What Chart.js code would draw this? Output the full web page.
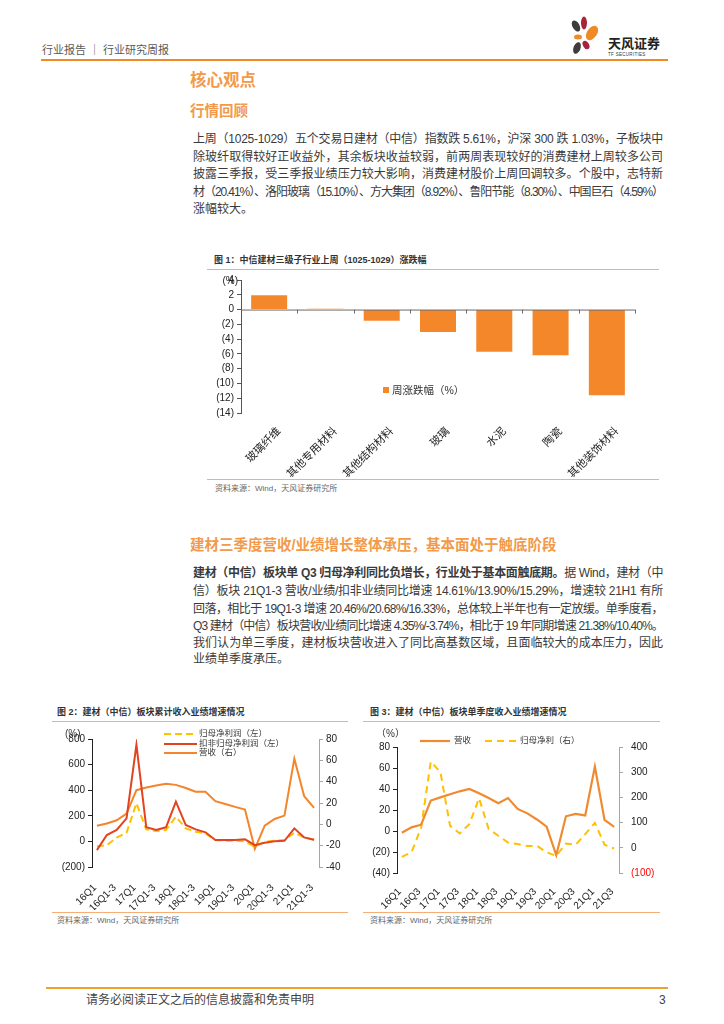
<!DOCTYPE html>
<html>
<head>
<meta charset="utf-8">
<script src="https://cdn.jsdelivr.net/npm/chart.js@4.4.0/dist/chart.umd.min.js"></script>
<style>
body{margin:0;width:724px;height:1024px;position:relative;background:#fff;overflow:hidden;
  font-family:"Liberation Sans","Noto Sans CJK SC",sans-serif;color:#3a3a3a}
.a{position:absolute;white-space:nowrap}
.h1{font-size:16.5px;font-weight:bold;color:#F29A4A}
.h2{font-size:14.5px;font-weight:bold;color:#F29A4A}
.ln{position:absolute;left:193px;width:470px;font-size:12px;line-height:14px;white-space:nowrap;text-align:justify;text-align-last:justify}
.ln.last{text-align:left;text-align-last:left}
.b{font-weight:bold}
.ct{font-size:9px;font-weight:bold;color:#333;line-height:12px}
.src{font-size:8px;color:#666;line-height:10px}
.rule{position:absolute;height:1.5px;background:#F6AE74}
canvas{position:absolute}
</style>
</head>
<body>

<!-- header -->
<div class="a" style="left:42px;top:43px;font-size:11px;color:#5a5a5a;line-height:14px">行业报告 ｜ 行业研究周报</div>
<div style="position:absolute;left:41px;top:59px;width:627px;height:2px;background:#F08A24"></div>
<svg class="a" style="left:566px;top:16px" width="100" height="44" viewBox="0 0 100 44">
  <ellipse cx="10" cy="10" rx="3.5" ry="6" transform="rotate(-30 10 10)" fill="#3d3d3d"/>
  <ellipse cx="18" cy="7" rx="3" ry="6.5" fill="#A8243A"/>
  <ellipse cx="26" cy="17" rx="5" ry="8" transform="rotate(35 26 17)" fill="#F08A24"/>
  <ellipse cx="12" cy="21" rx="4" ry="2.5" fill="#F08A24"/>
  <ellipse cx="11" cy="32" rx="3.5" ry="6" transform="rotate(20 11 32)" fill="#3d3d3d"/>
  <ellipse cx="20" cy="29" rx="3" ry="4.5" transform="rotate(-30 20 29)" fill="#A8243A"/>
</svg>
<div class="a" style="left:608px;top:36px;font-size:13px;font-weight:bold;color:#222;line-height:15px">天风证券</div>
<div class="a" style="left:608px;top:52px;font-size:4.5px;color:#333;line-height:6px;letter-spacing:0.3px">TF SECURITIES</div>

<!-- section 1 -->
<div class="a h1" style="left:190px;top:71px;line-height:19px">核心观点</div>
<div class="a h2" style="left:190px;top:102px;line-height:18px">行情回顾</div>
<div class="ln" style="top:132px">上周（1025-1029）五个交易日建材（中信）指数跌 5.61%，沪深 300 跌 1.03%，子板块中</div>
<div class="ln" style="top:149.5px">除玻纤取得较好正收益外，其余板块收益较弱，前两周表现较好的消费建材上周较多公司</div>
<div class="ln" style="top:167px">披露三季报，受三季报业绩压力较大影响，消费建材股价上周回调较多。个股中，志特新</div>
<div class="ln" style="top:184.5px">材（20.41%）、洛阳玻璃（15.10%）、方大集团（8.92%）、鲁阳节能（8.30%）、中国巨石（4.59%）</div>
<div class="ln last" style="top:202px">涨幅较大。</div>

<!-- figure 1 -->
<div class="a ct" style="left:214px;top:254px">图 1：中信建材三级子行业上周（1025-1029）涨跌幅</div>
<div class="rule" style="left:207px;top:268.5px;width:452px"></div>
<canvas id="c1" width="452" height="206" style="left:207px;top:271px"></canvas>
<div class="rule" style="left:207px;top:478.5px;width:452px"></div>
<div class="a src" style="left:215px;top:484px">资料来源：Wind，天风证券研究所</div>

<!-- section 2 -->
<div class="a h2" style="left:190px;top:536px;line-height:18px">建材三季度营收/业绩增长整体承压，基本面处于触底阶段</div>
<div class="ln" style="top:566px"><span class="b">建材（中信）板块单 Q3 归母净利同比负增长，行业处于基本面触底期。</span>据 Wind，建材（中</div>
<div class="ln" style="top:584px">信）板块 21Q1-3 营收/业绩/扣非业绩同比增速 14.61%/13.90%/15.29%，增速较 21H1 有所</div>
<div class="ln" style="top:602px">回落，相比于 19Q1-3 增速 20.46%/20.68%/16.33%，总体较上半年也有一定放缓。单季度看，</div>
<div class="ln" style="top:619px">Q3 建材（中信）板块营收/业绩同比增速 4.35%/-3.74%，相比于 19 年同期增速 21.38%/10.40%。</div>
<div class="ln" style="top:636px">我们认为单三季度，建材板块营收进入了同比高基数区域，且面临较大的成本压力，因此</div>
<div class="ln last" style="top:652px">业绩单季度承压。</div>

<!-- figure 2 / 3 -->
<div class="a ct" style="left:57px;top:706px">图 2：建材（中信）板块累计收入业绩增速情况</div>
<div class="rule" style="left:52px;top:720.5px;width:296px"></div>
<canvas id="c2" width="296" height="186" style="left:52px;top:724px"></canvas>
<div class="rule" style="left:52px;top:911.5px;width:296px"></div>
<div class="a src" style="left:57px;top:916px">资料来源：Wind，天风证券研究所</div>

<div class="a ct" style="left:370px;top:706px">图 3：建材（中信）板块单季度收入业绩增速情况</div>
<div class="rule" style="left:363px;top:720.5px;width:297px"></div>
<canvas id="c3" width="297" height="186" style="left:363px;top:724px"></canvas>
<div class="rule" style="left:363px;top:911.5px;width:297px"></div>
<div class="a src" style="left:370px;top:916px">资料来源：Wind，天风证券研究所</div>

<!-- footer -->
<div style="position:absolute;left:46px;top:987px;width:622px;height:2px;background:#F0A030"></div>
<div class="a" style="left:86px;top:993px;font-size:12px;color:#444;line-height:15px">请务必阅读正文之后的信息披露和免责申明</div>
<div class="a" style="left:659px;top:993px;font-size:12px;color:#444;line-height:15px">3</div>

<script>
// fig 1 data
var subSectors = ['玻璃纤维', '其他专用材料', '其他结构材料', '玻璃', '水泥', '陶瓷', '其他装饰材料'];
var weeklyChange = [1.95, 0.1, -1.5, -3.05, -5.7, -6.2, -11.6];

// fig 2 data (cumulative, yoy %)
var cumPeriods = ['16Q1', '16H1', '16Q1-3', '16A', '17Q1', '17H1', '17Q1-3', '17A',
  '18Q1', '18H1', '18Q1-3', '18A', '19Q1', '19H1', '19Q1-3', '19A',
  '20Q1', '20H1', '20Q1-3', '20A', '21Q1', '21H1', '21Q1-3'];
var cumNetProfit = [-37, -30, 29, 68, 298, 94, 81, 89, 193, 102, 76, 63, 10, 5, 5, 0, -42, -3, 5, 10, 68, 30, 13];
var cumDeductProfit = [-68, 50, 89, 180, 755, 110, 89, 110, 311, 128, 94, 71, 10, 10, 10, 16, -29, -10, 2, 5, 102, 31, 13];
var cumRevenue = [-1.3, 0.8, 3.8, 10, 32, 34.6, 36.5, 38, 37, 34, 30.5, 30.5, 21.7, 19, 16.4, 13.8, -23, -1.3, 5, 8.2, 61.6, 26.4, 15.4];

// fig 3 data (single quarter, yoy %)
var quarters = ['16Q1', '16Q2', '16Q3', '16Q4', '17Q1', '17Q2', '17Q3', '17Q4',
  '18Q1', '18Q2', '18Q3', '18Q4', '19Q1', '19Q2', '19Q3', '19Q4',
  '20Q1', '20Q2', '20Q3', '20Q4', '21Q1', '21Q2', '21Q3'];
var qRevenue = [-1.6, 3.5, 6, 29, 32, 35, 37.8, 40, 36, 31.5, 26.5, 31.4, 21, 16.8, 11, 4.2, -23, 14, 16.2, 14.8, 61.3, 10.5, 4];
var qNetProfit = [-36, -18, 80, 342, 300, 87, 57, 94, 197, 74, 48, 21, 15, 7, 8, -18, -32, 17, 12, 54, 99, 12, -3];

var LATIN = '"Liberation Sans","Noto Sans CJK SC",sans-serif';
Chart.defaults.font.family = LATIN;
Chart.defaults.color = '#222';

function paren(v) { return v < 0 ? '(' + (-v) + ')' : '' + v; }
function fix(w) { return function (s) { s.width = w; s.paddingTop = 0; s.paddingBottom = 0; }; }
function fixH(h) { return function (s) { s.height = h; s.paddingLeft = 0; s.paddingRight = 0; }; }
function everyOther(v, i) { return i % 2 === 0 ? this.getLabelForValue(v) : ''; }

// fig 1
var decor1 = {
  id: 'decor1',
  afterDatasetsDraw: function (chart) {
    var ctx = chart.ctx, a = chart.chartArea, x = chart.scales.x, y = chart.scales.y;
    var y0 = y.getPixelForValue(0);
    ctx.save();
    ctx.strokeStyle = '#6b6b6b';
    ctx.lineWidth = 1;
    ctx.beginPath();
    ctx.moveTo(a.left, y0 + 0.5); ctx.lineTo(a.right, y0 + 0.5);
    for (var k = 1; k <= subSectors.length; k++) {
      var bx = Math.round(x.getPixelForValue(k - 0.5)) + 0.5;
      ctx.moveTo(bx, y0); ctx.lineTo(bx, y0 + 4);
    }
    ctx.stroke();
    ctx.font = '10px ' + LATIN;
    ctx.fillStyle = '#222';
    ctx.textBaseline = 'middle';
    ctx.textAlign = 'right';
    ctx.fillText('(%)', a.left - 3, a.top + 1);
    // legend inside plot
    ctx.fillStyle = '#F5872B';
    ctx.fillRect(176, 116, 6, 6);
    ctx.fillStyle = '#333';
    ctx.textAlign = 'left';
    ctx.font = '10.5px ' + LATIN;
    ctx.fillText('周涨跌幅（%）', 185, 120);
    ctx.restore();
  }
};

new Chart(document.getElementById('c1'), {
  type: 'bar',
  data: {
    labels: subSectors,
    datasets: [{
      label: '周涨跌幅（%）',
      data: weeklyChange,
      backgroundColor: '#F5872B',
      barPercentage: 0.64,
      categoryPercentage: 1
    }]
  },
  options: {
    responsive: false,
    animation: false,
    layout: { padding: { top: 9, right: 24, left: 0, bottom: 0 } },
    plugins: { legend: { display: false }, tooltip: { enabled: false } },
    scales: {
      x: {
        grid: { display: false },
        border: { display: false },
        ticks: { minRotation: 45, maxRotation: 45, autoSkip: false, padding: 4, labelOffset: 10, font: { size: 11 } },
        afterFit: fixH(64)
      },
      y: {
        min: -14, max: 4,
        ticks: { stepSize: 2, autoSkip: false, padding: 3, font: { size: 10 }, callback: paren },
        grid: { drawOnChartArea: false, tickLength: 4, color: '#555' },
        border: { color: '#555' },
        afterFit: fix(34)
      }
    }
  },
  plugins: [decor1]
});

// legend helper for line charts
function legendLine(ctx, x1, x2, y, color, dash) {
  ctx.beginPath();
  ctx.strokeStyle = color;
  ctx.lineWidth = 2.2;
  ctx.setLineDash(dash || []);
  ctx.moveTo(x1, y); ctx.lineTo(x2, y);
  ctx.stroke();
  ctx.setLineDash([]);
}

// fig 2
var decor2 = {
  id: 'decor2',
  afterDraw: function (chart) {
    var ctx = chart.ctx, ds = chart.data.datasets;
    ctx.save();
    ctx.font = '8.5px ' + LATIN;
    ctx.textBaseline = 'middle';
    ctx.fillStyle = '#333';
    var rows = [10, 20, 29];
    for (var i = 0; i < ds.length; i++) {
      legendLine(ctx, 112, 145, rows[i], ds[i].borderColor, ds[i].borderDash);
      ctx.fillStyle = '#333';
      ctx.fillText(ds[i].label, 147, rows[i]);
    }
    ctx.font = '10px ' + LATIN;
    ctx.fillText('(%)', 13, 10);
    ctx.restore();
  }
};

new Chart(document.getElementById('c2'), {
  type: 'line',
  data: {
    labels: cumPeriods,
    datasets: [
      { label: '归母净利润（左）', data: cumNetProfit, borderColor: '#FFC000', borderDash: [7, 4], borderWidth: 2, pointRadius: 0, yAxisID: 'y', order: 2 },
      { label: '扣非归母净利润（左）', data: cumDeductProfit, borderColor: '#E2441F', borderWidth: 2, pointRadius: 0, yAxisID: 'y', order: 0 },
      { label: '营收（右）', data: cumRevenue, borderColor: '#F4852A', borderWidth: 2, pointRadius: 0, yAxisID: 'y2', order: 1 }
    ]
  },
  options: {
    responsive: false,
    animation: false,
    layout: { padding: { top: 15, right: 0, left: 0, bottom: 0 } },
    plugins: { legend: { display: false }, tooltip: { enabled: false } },
    scales: {
      x: {
        offset: true,
        grid: { display: false },
        border: { display: false },
        ticks: { minRotation: 45, maxRotation: 45, autoSkip: false, padding: 7, labelOffset: -2, font: { size: 10 }, callback: everyOther },
        afterFit: fixH(43)
      },
      y: {
        min: -200, max: 800,
        ticks: { stepSize: 200, autoSkip: false, padding: 3, font: { size: 10 }, callback: paren },
        grid: { drawOnChartArea: false, tickLength: 4, color: '#222' },
        border: { color: '#222' },
        afterFit: fix(40)
      },
      y2: {
        position: 'right',
        min: -40, max: 80,
        ticks: { stepSize: 20, autoSkip: false, padding: 3, font: { size: 10 } },
        grid: { drawOnChartArea: false, tickLength: 4, color: '#A6A6A6' },
        border: { color: '#A6A6A6' },
        afterFit: fix(29)
      }
    }
  },
  plugins: [decor2]
});

// fig 3
var decor3 = {
  id: 'decor3',
  afterDraw: function (chart) {
    var ctx = chart.ctx, ds = chart.data.datasets;
    ctx.save();
    ctx.font = '8.5px ' + LATIN;
    ctx.textBaseline = 'middle';
    ctx.fillStyle = '#333';
    legendLine(ctx, 57, 87, 17, ds[0].borderColor, ds[0].borderDash);
    ctx.fillText(ds[0].label, 91, 17);
    legendLine(ctx, 122, 154, 17, ds[1].borderColor, ds[1].borderDash);
    ctx.fillText(ds[1].label, 157, 17);
    ctx.font = '10px ' + LATIN;
    ctx.fillText('（%）', 13, 10);
    ctx.restore();
  }
};

new Chart(document.getElementById('c3'), {
  type: 'line',
  data: {
    labels: quarters,
    datasets: [
      { label: '营收', data: qRevenue, borderColor: '#F08A30', borderWidth: 2.2, pointRadius: 0, yAxisID: 'y', order: 0 },
      { label: '归母净利（右）', data: qNetProfit, borderColor: '#FFC000', borderDash: [7, 5], borderWidth: 2, pointRadius: 0, yAxisID: 'y2', order: 1 }
    ]
  },
  options: {
    responsive: false,
    animation: false,
    layout: { padding: { top: 23, right: 0, left: 0, bottom: 0 } },
    plugins: { legend: { display: false }, tooltip: { enabled: false } },
    scales: {
      x: {
        offset: true,
        grid: { display: false },
        border: { display: false },
        ticks: { minRotation: 45, maxRotation: 45, autoSkip: false, padding: 5, labelOffset: -2, font: { size: 10 }, callback: everyOther },
        afterFit: fixH(37)
      },
      y: {
        min: -40, max: 80,
        ticks: { stepSize: 20, autoSkip: false, padding: 3, font: { size: 10 }, callback: paren },
        grid: { drawOnChartArea: false, tickLength: 4, color: '#222' },
        border: { color: '#222' },
        afterFit: fix(34)
      },
      y2: {
        position: 'right',
        min: -100, max: 400,
        ticks: {
          stepSize: 100, autoSkip: false, padding: 8, font: { size: 10 }, callback: paren,
          color: function (c) { return c.tick.value < 0 ? '#FF0000' : '#222'; }
        },
        grid: { drawOnChartArea: false, tickLength: 4, color: '#A6A6A6' },
        border: { color: '#A6A6A6' },
        afterFit: fix(41)
      }
    }
  },
  plugins: [decor3]
});

// squeeze body lines that run past the column width
document.querySelectorAll('.ln').forEach(function (el) {
  var over = el.scrollWidth - el.clientWidth;
  if (over > 0) {
    var n = el.textContent.length;
    el.style.letterSpacing = (-(over + 2) / n).toFixed(3) + 'px';
  }
});
</script>
</body>
</html>
